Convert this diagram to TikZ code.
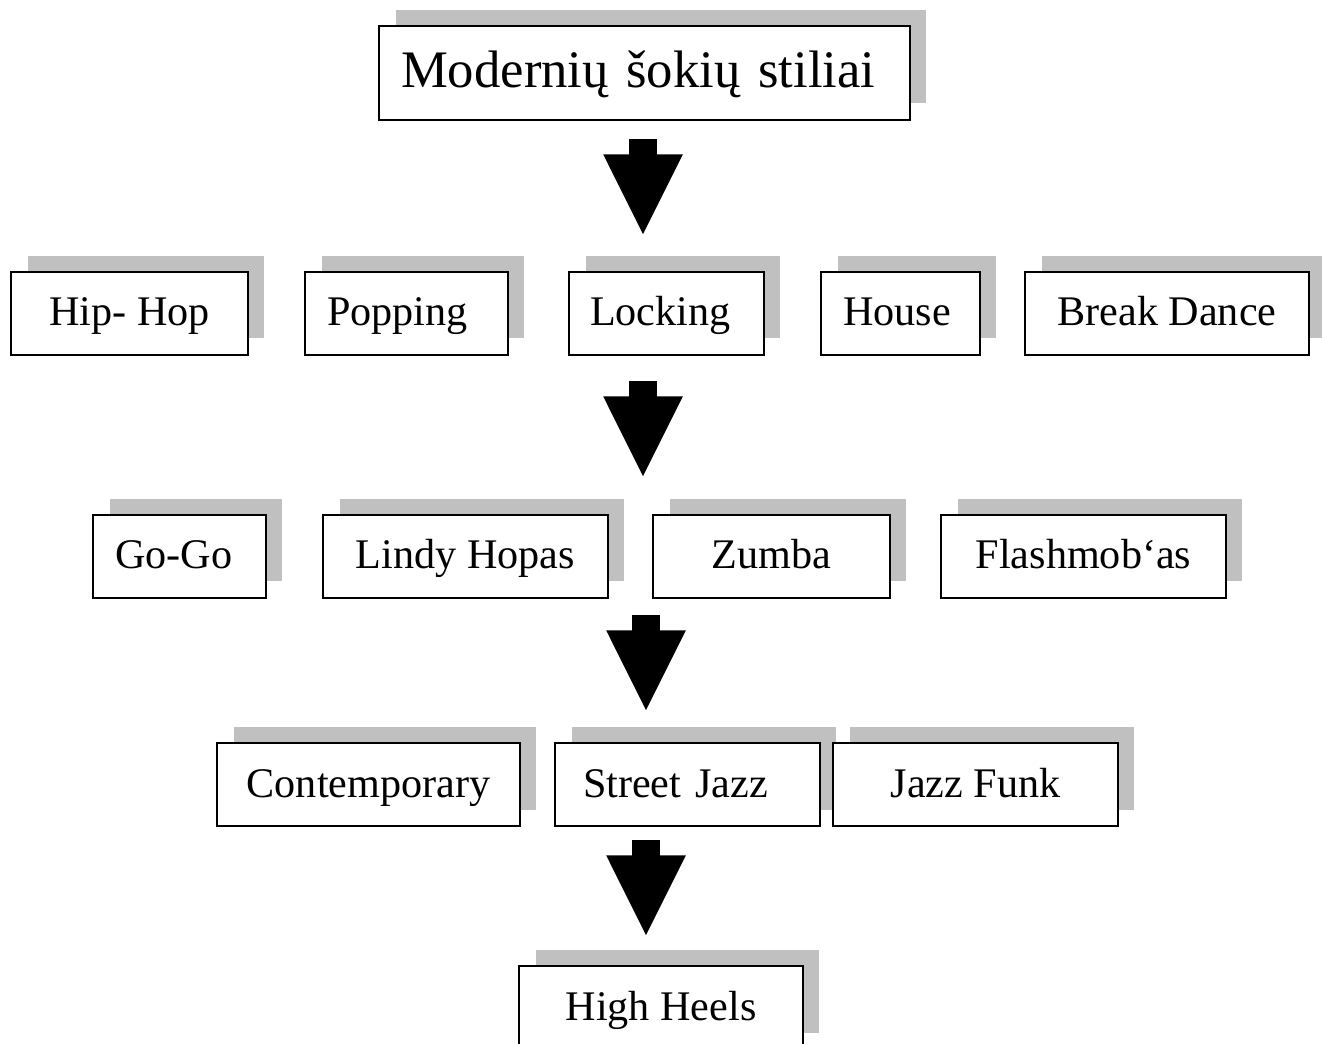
\documentclass[tikz,border=0pt]{standalone}
\usepackage{fontspec}
\setmainfont{Liberation Serif}
\usetikzlibrary{shapes.arrows,shadows,positioning}
\definecolor{shadowgray}{HTML}{C0C0C0}
\tikzset{
  dance box/.style={rectangle, draw, line width=1.1pt, fill=white,
    minimum height=1.66cm, inner sep=0pt, font=\fontsize{24}{28}\selectfont,
    text height=0.68cm, text depth=0.18cm,
    drop shadow={shadow xshift=0.33cm, shadow yshift=0.33cm, fill=shadowgray, opacity=1}},
  left box/.style={dance box, align=left, inner xsep=#1},
  flow arrow/.style={single arrow, fill=black, draw=none, shape border rotate=270,
    inner sep=0.27cm, single arrow head extend=0.52cm, single arrow tip angle=53,
    single arrow head indent=0pt, minimum height=1.9cm, anchor=tip}
}
\begin{document}
\begin{tikzpicture}[x=0.02cm, y=-0.02cm]
\useasboundingbox (0,0) rectangle (1322,1044);
% top
\node[left box=0.44cm, text width=9.74cm, minimum height=1.88cm,
  font=\fontsize{30}{34}\selectfont, text height=0.85cm, text depth=0.25cm]
  (title) at (644.5,73) {Modernių šokių stiliai};
\node[flow arrow] (arr1) at (643,235) {};
% row 1
\node[dance box, minimum width=4.74cm] (hiphop) at (129.5,313.5) {Hip- Hop};
\node[left box=0.44cm, text width=3.18cm] (popping) at (406.5,313.5) {Popping};
\node[left box=0.42cm, text width=3.06cm] (locking) at (666.5,313.5) {Locking};
\node[left box=0.44cm, text width=2.30cm] (house) at (900.5,313.5) {House};
\node[dance box, minimum width=5.68cm] (breakdance) at (1167,313.5) {Break Dance};
\node[flow arrow] (arr2) at (643,477) {};
% row 2
\node[left box=0.44cm, text width=2.58cm] (gogo) at (179.5,556.5) {Go-Go};
\node[dance box, minimum width=5.70cm] (lindy) at (465.5,556.5) {Lindy Hopas};
\node[dance box, minimum width=4.74cm] (zumba) at (771.5,556.5) {Zumba};
\node[dance box, minimum width=5.70cm] (flashmob) at (1083.5,556.5) {Flashmob‘as};
\node[flow arrow] (arr3) at (646,711) {};
% row 3
\node[dance box, minimum width=6.06cm] (contemporary) at (368.5,784.5) {Contemporary};
\node[left box=0.56cm, text width=4.18cm] (streetjazz) at (687.5,784.5) {Street Jazz};
\node[dance box, minimum width=5.70cm] (jazzfunk) at (975.5,784.5) {Jazz Funk};
\node[flow arrow] (arr4) at (646,936) {};
% bottom
\node[dance box, minimum width=5.68cm] (highheels) at (661,1007.5) {High Heels};
\end{tikzpicture}
\end{document}
